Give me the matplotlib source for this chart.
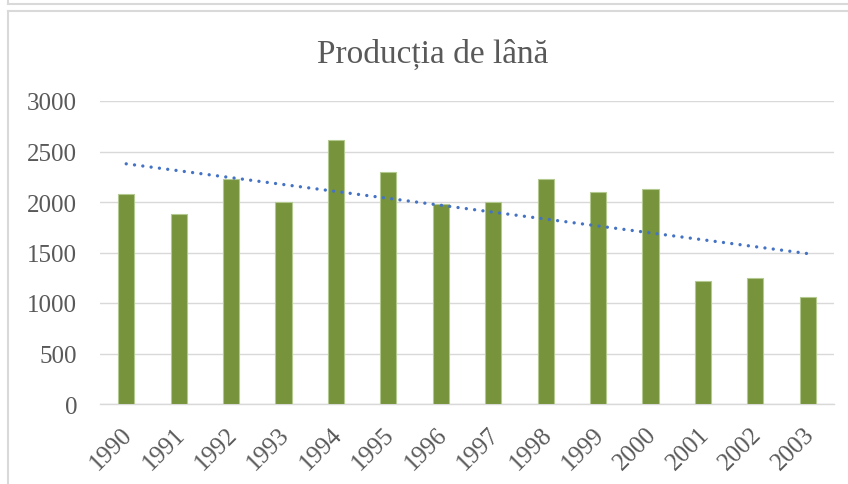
import numpy as np
import matplotlib.pyplot as plt
import matplotlib.transforms as mtransforms
from matplotlib.lines import Line2D

years = ['1990', '1991', '1992', '1993', '1994', '1995', '1996',
         '1997', '1998', '1999', '2000', '2001', '2002', '2003']
wool = [2080, 1880, 2230, 2000, 2610, 2300, 1980,
        2000, 2230, 2100, 2130, 1220, 1250, 1060]
title = 'Producția de lână'

W, H = 848, 485
fig = plt.figure(figsize=(W / 100, H / 100), dpi=100)
plt.rcParams['font.family'] = ['Liberation Serif', 'DejaVu Serif']

# frame lines around the chart area (pixel coords -> figure fraction)
border = '#d9d9d9'
def fx(px):
    return px / W
def fy(py):
    return 1 - py / H
fig.add_artist(Line2D([fx(7.5), fx(7.5)], [fy(0), fy(5)], color=border, lw=1.5))
fig.add_artist(Line2D([fx(7.5), 1], [fy(4.5), fy(4.5)], color=border, lw=1.5))
fig.add_artist(Line2D([fx(7.5), fx(7.5)], [fy(11.5), 0], color=border, lw=1.5))
fig.add_artist(Line2D([fx(7.5), 1], [fy(11.5), fy(11.5)], color=border, lw=1.5))

ax = fig.add_axes([fx(100), fy(405), fx(834) - fx(100), fy(102) - fy(405)])

x = np.arange(len(years))
ax.bar(x, wool, width=0.31, color='#77933c', edgecolor='#b3c98f', linewidth=0.8, zorder=3)

# linear trend line
k, b = np.polyfit(x, wool, 1)
ax.plot(x, k * x + b, color='#4472c4', lw=2.4, linestyle=(0, (0.01, 2.5)),
        dash_capstyle='round', zorder=4)

ax.set_xlim(-0.5, len(years) - 0.5)
ax.set_ylim(0, 3000)
ax.set_yticks(range(0, 3001, 500))
ax.yaxis.grid(True, color='#d9d9d9', lw=1.0, zorder=0)
ax.set_axisbelow(True)
for s in ['top', 'right', 'left']:
    ax.spines[s].set_visible(False)
ax.spines['bottom'].set_color('#d9d9d9')
ax.spines['bottom'].set_linewidth(1.0)

ax.set_xticks(x)
ax.set_xticklabels(years, rotation=45, ha='right', rotation_mode='anchor')
ax.tick_params(axis='both', length=0, labelsize=18, labelcolor='#595959')
ax.tick_params(axis='x', pad=9)
ax.tick_params(axis='y', pad=16.5)
shift = mtransforms.ScaledTranslation(-0.05, -0.06, fig.dpi_scale_trans)
for lab in ax.get_xticklabels():
    lab.set_transform(lab.get_transform() + shift)

fig.text(fx(433), fy(63), title, ha='center', va='baseline', fontsize=24, color='#595959')

fig.savefig('out.png', dpi=100)
